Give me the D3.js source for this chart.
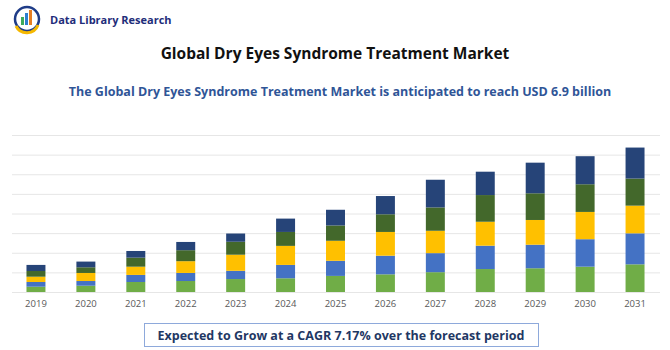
<!DOCTYPE html>
<html><head><meta charset="utf-8">
<script src="https://cdn.jsdelivr.net/npm/d3@7"></script>
<style>body{margin:0;background:#fff}svg{display:block}</style>
</head><body>
<svg id="c" width="670" height="350"></svg>
<script>
const years = ["2019","2020","2021","2022","2023","2024","2025","2026","2027","2028","2029","2030","2031"];
const seriesA = [0.27,0.32,0.51,0.56,0.66,0.70,0.82,0.90,1.01,1.17,1.21,1.29,1.41];
const seriesB = [0.24,0.24,0.36,0.41,0.42,0.68,0.77,0.95,0.97,1.19,1.20,1.40,1.58];
const seriesC = [0.27,0.41,0.42,0.60,0.82,0.97,1.02,1.21,1.14,1.22,1.26,1.39,1.41];
const seriesD = [0.29,0.29,0.46,0.56,0.66,0.71,0.78,0.90,1.19,1.36,1.36,1.41,1.38];
const seriesE = [0.31,0.29,0.34,0.42,0.42,0.68,0.80,0.93,1.41,1.19,1.56,1.43,1.58];
const gridTicks = [0,1,2,3,4,5,6,7,8];
const colors = ["#70AD47","#4472C4","#FFC000","#43682B","#264478"];

const svg = d3.select("#c");
const keys = ["a","b","c","d","e"];
const rows = years.map((y,i)=>({year:y,a:seriesA[i],b:seriesB[i],c:seriesC[i],d:seriesD[i],e:seriesE[i]}));
const stack = d3.stack().keys(keys)(rows);

const x = d3.scaleBand().domain(years).range([11,660]).paddingInner(0.62).paddingOuter(0.31);
const y = d3.scaleLinear().domain([0,8]).range([292,135]);

// gridlines
svg.append("g").selectAll("line").data(gridTicks).join("line")
  .attr("x1",12).attr("x2",660).attr("y1",d=>y(d)+0.5).attr("y2",d=>y(d)+0.5)
  .attr("stroke","#e6e6e6").attr("stroke-width",1);

// bars
svg.append("g").selectAll("g").data(stack).join("g").attr("fill",(d,i)=>colors[i])
  .selectAll("rect").data(d=>d).join("rect")
  .attr("x",d=>x(d.data.year)).attr("width",x.bandwidth())
  .attr("y",d=>y(d[1])).attr("height",d=>y(d[0])-y(d[1]));

// x axis
const xa = svg.append("g").attr("transform","translate(0,296)")
  .call(d3.axisBottom(x).tickSize(0).tickPadding(4));
xa.select(".domain").remove();
xa.selectAll("text").attr("font-family","'Open Sans', sans-serif").attr("font-size",9.5).attr("fill","#595959");

// logo
const lg = svg.append("g");
lg.append("circle").attr("cx",27).attr("cy",19).attr("r",12).attr("fill","none").attr("stroke","#1F3C88").attr("stroke-width",2.5);
lg.append("path").attr("d","M16,26 A12,12 0 0 0 38,25").attr("fill","none").attr("stroke","#F5B800").attr("stroke-width",3);
lg.append("rect").attr("x",21).attr("y",17).attr("width",3).attr("height",8).attr("fill","#3DAA5B");
lg.append("rect").attr("x",25).attr("y",13).attr("width",3).attr("height",12).attr("fill","#2E7FD0");
lg.append("rect").attr("x",29).attr("y",10).attr("width",3).attr("height",15).attr("fill","#E67E22");
svg.append("text").attr("x",50).attr("y",24).attr("font-family","'Open Sans', sans-serif").attr("font-weight","bold")
  .attr("font-size",11).attr("fill","#1F2D7A").text("Data Library Research");

// titles
svg.append("text").attr("x",335).attr("y",59).attr("text-anchor","middle").attr("font-family","'Open Sans', sans-serif")
  .attr("font-weight","bold").attr("font-size",15.5).attr("fill","#111").text("Global Dry Eyes Syndrome Treatment Market");
svg.append("text").attr("x",340).attr("y",96).attr("text-anchor","middle").attr("font-family","'Open Sans', sans-serif")
  .attr("font-weight","bold").attr("font-size",12.5).attr("fill","#2F5597").text("The Global Dry Eyes Syndrome Treatment Market is anticipated to reach USD 6.9 billion");

// bottom box
svg.append("rect").attr("x",144.5).attr("y",323.5).attr("width",394).attr("height",23).attr("fill","#fff").attr("stroke","#8EA9DB").attr("stroke-width",1);
svg.append("text").attr("x",341).attr("y",340).attr("text-anchor","middle").attr("font-family","'Open Sans', sans-serif")
  .attr("font-weight","bold").attr("font-size",12.5).attr("fill","#1F3864").text("Expected to Grow at a CAGR 7.17% over the forecast period");
</script>
</body></html>
